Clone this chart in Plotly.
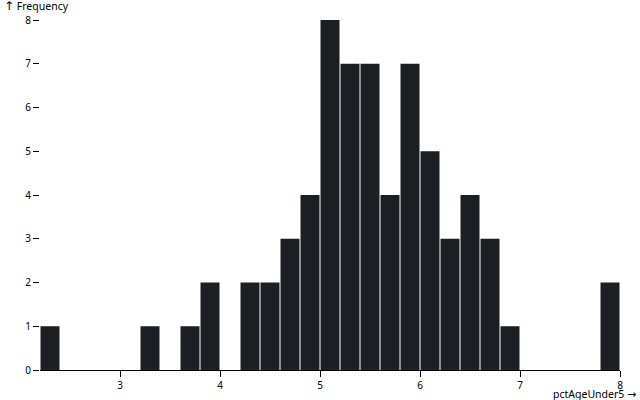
import plotly.graph_objects as go

bin_starts = [2.2, 2.4, 2.6, 2.8, 3.0, 3.2, 3.4, 3.6, 3.8, 4.0, 4.2, 4.4, 4.6, 4.8,
              5.0, 5.2, 5.4, 5.6, 5.8, 6.0, 6.2, 6.4, 6.6, 6.8, 7.0, 7.2, 7.4, 7.6, 7.8]
counts = [1, 0, 0, 0, 0, 1, 0, 1, 2, 0, 2, 2, 3, 4,
          8, 7, 7, 4, 7, 5, 3, 4, 3, 1, 0, 0, 0, 0, 2]
bin_width = 0.2
x_ticks = [3, 4, 5, 6, 7, 8]
y_ticks = [0, 1, 2, 3, 4, 5, 6, 7, 8]

centers = [s + bin_width / 2 for s in bin_starts]

fig = go.Figure(go.Bar(
    x=centers, y=counts, width=bin_width - 0.01,
    marker=dict(color="#1b1e23", line=dict(width=0)),
    hoverinfo="skip",
))

fig.update_layout(
    width=640, height=400,
    margin=dict(l=40, r=20, t=20, b=30, autoexpand=False),
    plot_bgcolor="white", paper_bgcolor="white",
    font=dict(family="Noto Sans", size=10, color="black"),
    showlegend=False,
    xaxis=dict(range=[2.2, 8.0], tickvals=x_ticks, ticks="outside", ticklen=6,
               tickcolor="black", showline=True, linecolor="black", linewidth=1,
               showgrid=False, zeroline=False, automargin=False),
    yaxis=dict(range=[0, 8], tickvals=y_ticks, ticks="outside", ticklen=6,
               tickcolor="black", showline=False, showgrid=False, zeroline=False,
               automargin=False),
    annotations=[
        dict(text="<span style='font-family:DejaVu Sans;font-size:12px'>↑</span> Frequency",
             xref="paper", yref="paper", x=0, y=1,
             xanchor="left", yanchor="middle", xshift=-38, yshift=14,
             showarrow=False, font=dict(size=10.5)),
        dict(text="pctAgeUnder5 <span style='font-family:DejaVu Sans;font-size:11px'>→</span>",
             xref="paper", yref="paper", x=1, y=0,
             xanchor="right", yanchor="top", xshift=18, yshift=-15,
             showarrow=False, font=dict(size=10.5)),
    ],
)

fig.write_html("out.html", config={"displayModeBar": False},
               post_script="document.body.style.margin='0px';")
